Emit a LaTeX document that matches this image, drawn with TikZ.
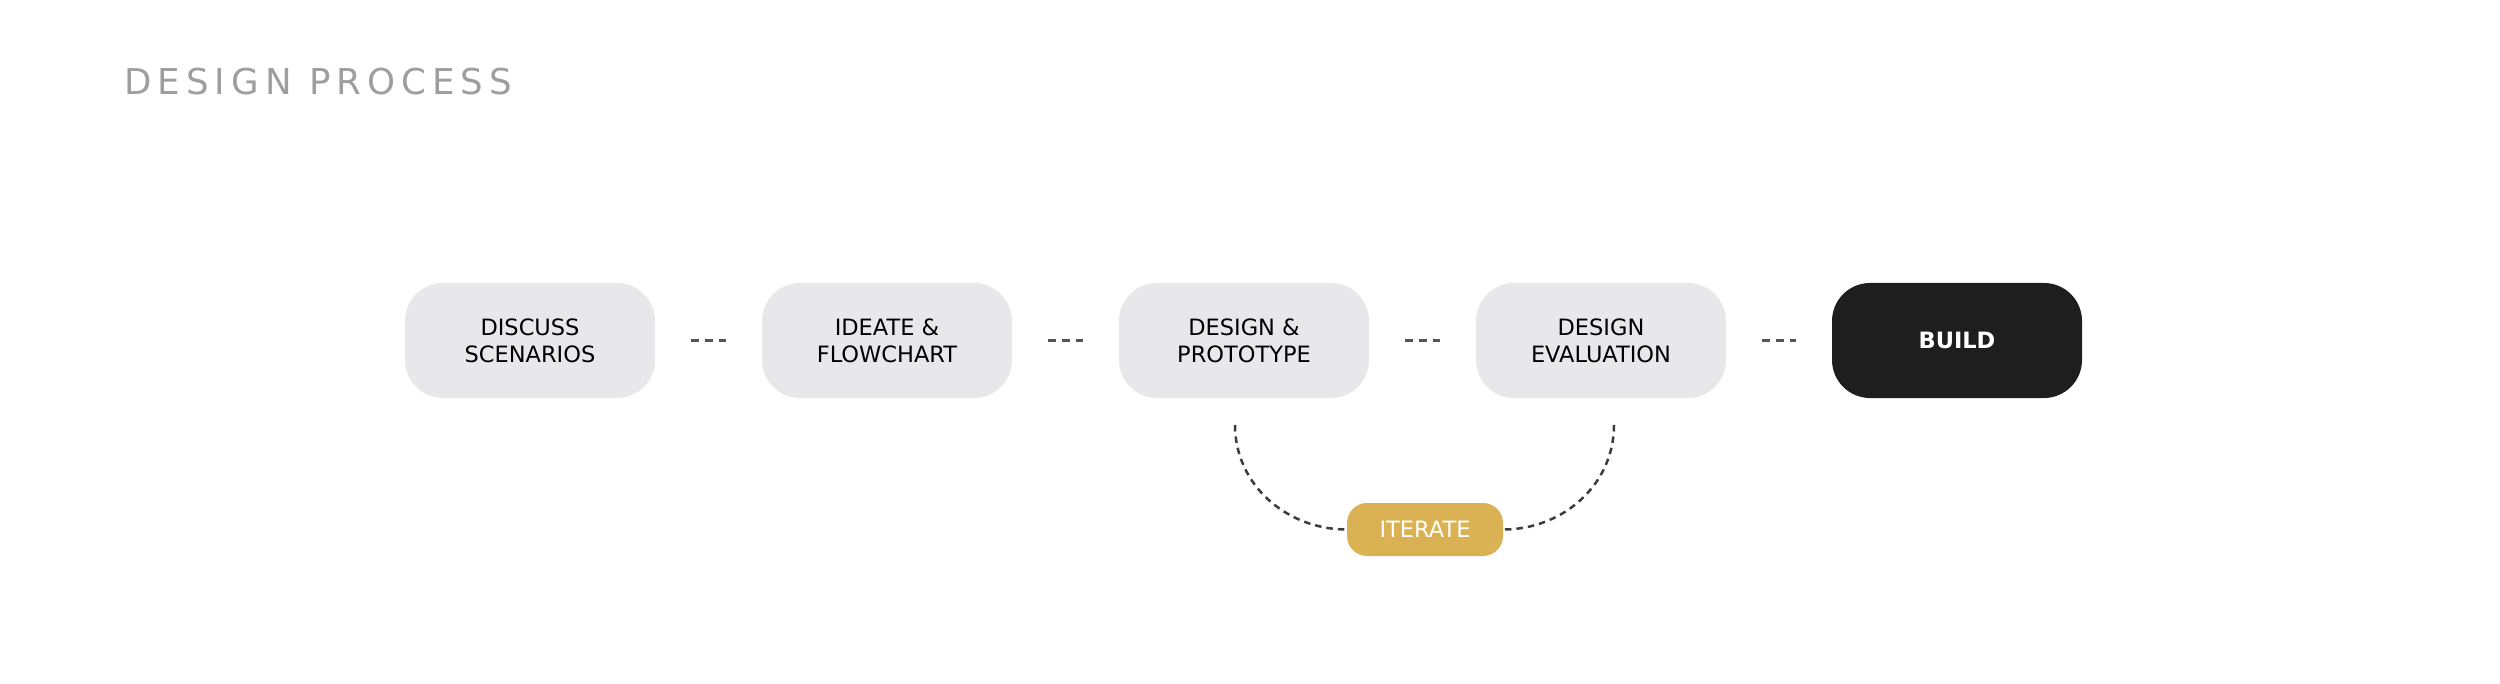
\documentclass[tikz,border=0pt]{standalone}
\usepackage{fontspec}
\setmainfont{DejaVu Sans}
\newfontfamily\titlefont[LetterSpace=17]{DejaVu Sans}
\definecolor{boxgray}{HTML}{E8E8EA}
\definecolor{buildblack}{HTML}{1E1E1E}
\definecolor{gold}{HTML}{DBB253}
\definecolor{titlegray}{HTML}{9E9E9E}
\definecolor{linkgray}{HTML}{555555}
\definecolor{arcgray}{HTML}{3C3C3C}
\begin{document}
\begin{tikzpicture}[x=1pt,y=1pt,
  stepbox/.style={fill=boxgray, draw=none, rounded corners=38pt, minimum width=250pt, minimum height=115pt, inner sep=0pt, align=center, text=black, font=\fontsize{22.5}{27}\selectfont},
  buildbox/.style={stepbox, fill=buildblack, text=white, font=\fontsize{22.5}{27}\selectfont\bfseries},
  iterbox/.style={fill=gold, draw=none, rounded corners=20pt, minimum width=156pt, minimum height=53pt, inner sep=0pt, text=white, font=\fontsize{22.5}{27}\selectfont},
  link/.style={draw=linkgray, line width=2.5pt, dash pattern=on 8pt off 6pt, shorten <=35.5pt, shorten >=35.5pt},
  loop/.style={draw=arcgray, line width=2.5pt, dash pattern=on 6.5pt off 5pt}
]
\useasboundingbox (0,0) rectangle (2500,-684);
\node[anchor=base west, text=titlegray, font=\titlefont\fontsize{35.6}{40}\selectfont, inner sep=0pt] (title) at (124,-95) {DESIGN PROCESS};
\node[stepbox] (b1) at (530,-340.5) {DISCUSS\\SCENARIOS};
\node[stepbox] (b2) at (887,-340.5) {IDEATE \&\\FLOWCHART};
\node[stepbox] (b3) at (1244,-340.5) {DESIGN \&\\PROTOTYPE};
\node[stepbox] (b4) at (1601,-340.5) {DESIGN\\EVALUATION};
\node[buildbox] (b5) at (1957,-340.5) {BUILD};
\draw[link] (b1.east) -- (b2.west);
\draw[link] (b2.east) -- (b3.west);
\draw[link] (b3.east) -- (b4.west);
\draw[link] (b4.east) -- (b5.west);
\node[iterbox] (it) at (1425,-529.5) {ITERATE};
\coordinate (l1) at (1235,-425);
\coordinate (r1) at (1614,-425);
\draw[loop] (l1) to[out=-90,in=180] (it.west);
\draw[loop] (r1) to[out=-90,in=0] (it.east);
\end{tikzpicture}
\end{document}
